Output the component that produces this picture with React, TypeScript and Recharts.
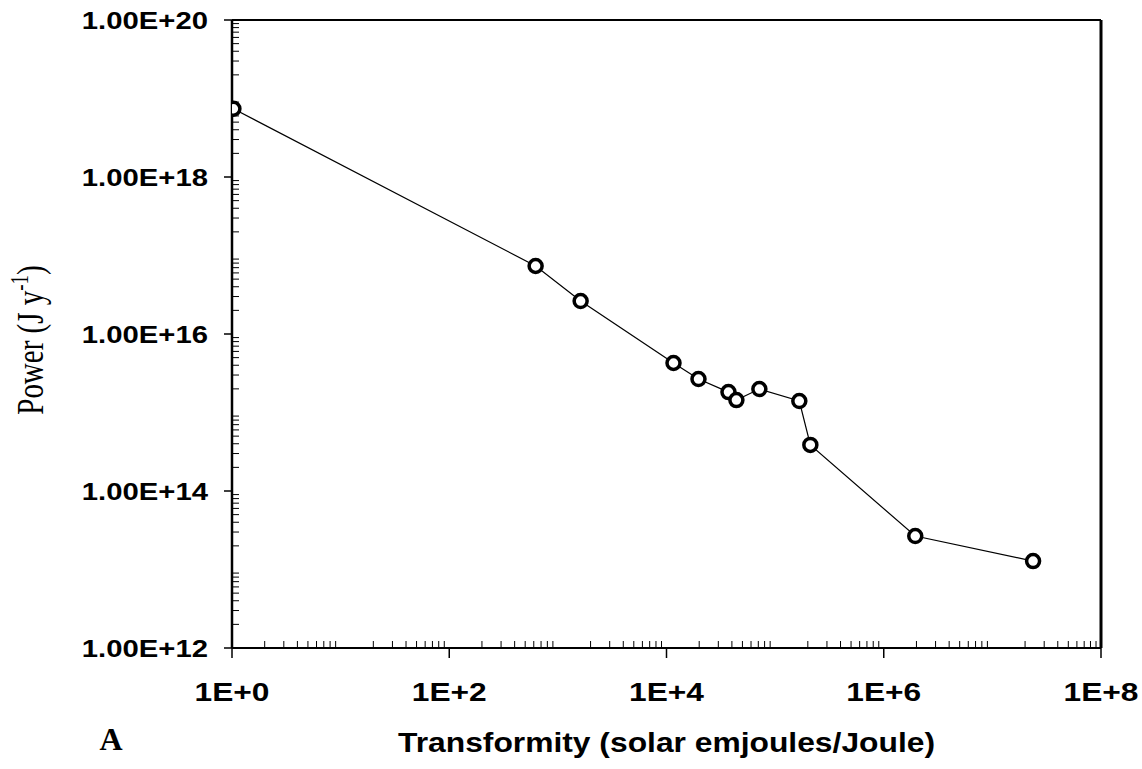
import React from "react";
import { LineChart, Line, XAxis, YAxis, Label } from "recharts";

// transformity (sej/J) and power (J/y)
const transformity = [1.03, 624, 1620, 11600, 19700, 37200, 44000, 71600, 167000, 211000, 1.95e6, 2.37e7];
const power = [7.4e18, 7.35e16, 2.63e16, 4.27e15, 2.67e15, 1.82e15, 1.44e15, 1.99e15, 1.4e15, 3.86e14, 2.67e13, 1.28e13];

const xTicks = [1, 1e2, 1e4, 1e6, 1e8];
const xTickLabels = ["1E+0", "1E+2", "1E+4", "1E+6", "1E+8"];
const yTicks = [1e12, 1e14, 1e16, 1e18, 1e20];
const yTickLabels = ["1.00E+12", "1.00E+14", "1.00E+16", "1.00E+18", "1.00E+20"];

// log minor ticks 2..9 in each decade
const minorSteps = [2, 3, 4, 5, 6, 7, 8, 9];
const xMinor = [0, 1, 2, 3, 4, 5, 6, 7].flatMap((k) => minorSteps.map((n) => n * 10 ** k));
const yMinor = [12, 13, 14, 15, 16, 17, 18, 19].flatMap((k) => minorSteps.map((n) => n * 10 ** k));

const data = transformity.map((x, i) => ({ x, y: power[i] }));

const SANS = "'Liberation Sans', Arial, sans-serif";
const SERIF = "'Liberation Serif', 'Times New Roman', serif";

const XTick = (props: any) => {
  const { x, y, payload } = props;
  const i = xTicks.indexOf(payload.value);
  return (
    <g transform={`translate(${x},${y})`}>
      <text transform="scale(1.22,1)" textAnchor="middle" dy={43} fontFamily={SANS} fontWeight="bold" fontSize={26} fill="#000">
        {xTickLabels[i]}
      </text>
    </g>
  );
};

const YTick = (props: any) => {
  const { x, y, payload } = props;
  const i = yTicks.indexOf(payload.value);
  return (
    <g transform={`translate(${x},${y})`}>
      <text transform="scale(1.22,1)" textAnchor="end" dy={8.5} fontFamily={SANS} fontWeight="bold" fontSize={24} fill="#000">
        {yTickLabels[i]}
      </text>
    </g>
  );
};

const NoLabel = () => <g />;

const renderYLabel = (props: any) => {
  const vb = props.viewBox;
  const cx = vb.x + 31;
  const cy = vb.y + vb.height / 2 + 6;
  return (
    <text transform={`translate(${cx},${cy}) scale(1.3,1) rotate(-90)`} textAnchor="middle" dy={9} fontFamily={SERIF} fontSize={29} fill="#000">
      Power (J y
      <tspan dy={-11} fontSize={19}>-1</tspan>
      <tspan dy={11}>)</tspan>
    </text>
  );
};

const renderXLabel = (props: any) => {
  const vb = props.viewBox;
  return (
    <g>
      <text x={vb.x + vb.width / 2} y={vb.y + 104} textAnchor="middle" fontFamily={SANS} fontWeight="bold" fontSize={28} textLength={537} lengthAdjust="spacingAndGlyphs" fill="#000">
        Transformity (solar emjoules/Joule)
      </text>
      <text x={vb.x - 121} y={vb.y + 102} textAnchor="middle" fontFamily={SERIF} fontWeight="bold" fontSize={32} fill="#000">
        A
      </text>
    </g>
  );
};

export default function App() {
  return (
    <div style={{ position: "absolute", left: 0, top: 0, width: 1142, height: 769, background: "#fff" }}>
      <LineChart width={1142} height={769} data={data} margin={{ top: 20, right: 41, bottom: 0, left: 0 }}>
        <XAxis
          dataKey="x"
          type="number"
          scale="log"
          domain={[1, 1e8]}
          allowDataOverflow
          ticks={xTicks}
          interval={0}
          height={121}
          tickSize={10}
          tickMargin={0}
          tick={XTick}
          axisLine={{ stroke: "#000", strokeWidth: 2 }}
          tickLine={{ stroke: "#000", strokeWidth: 1.5 }}
        >
          <Label content={renderXLabel} />
        </XAxis>
        <XAxis
          xAxisId="minor"
          dataKey="x"
          type="number"
          scale="log"
          domain={[1, 1e8]}
          allowDataOverflow
          ticks={xMinor}
          interval={0}
          mirror
          tick={NoLabel}
          tickSize={7}
          axisLine={false}
          tickLine={{ stroke: "#000", strokeWidth: 1 }}
        />
        <XAxis
          xAxisId="top"
          orientation="top"
          dataKey="x"
          type="number"
          scale="log"
          domain={[1, 1e8]}
          allowDataOverflow
          mirror
          tick={false}
          tickLine={false}
          axisLine={{ stroke: "#000", strokeWidth: 2 }}
        />
        <YAxis
          dataKey="y"
          type="number"
          scale="log"
          domain={[1e12, 1e20]}
          allowDataOverflow
          ticks={yTicks}
          interval={0}
          width={232}
          tickSize={8}
          tickMargin={16}
          tick={YTick}
          axisLine={{ stroke: "#000", strokeWidth: 2.5 }}
          tickLine={{ stroke: "#000", strokeWidth: 1.5 }}
        >
          <Label content={renderYLabel} />
        </YAxis>
        <YAxis
          yAxisId="minor"
          dataKey="y"
          type="number"
          scale="log"
          domain={[1e12, 1e20]}
          allowDataOverflow
          ticks={yMinor}
          interval={0}
          mirror
          tick={NoLabel}
          tickSize={7}
          axisLine={false}
          tickLine={{ stroke: "#000", strokeWidth: 1 }}
        />
        <YAxis
          yAxisId="right"
          orientation="right"
          dataKey="y"
          type="number"
          scale="log"
          domain={[1e12, 1e20]}
          allowDataOverflow
          mirror
          tick={false}
          tickLine={false}
          axisLine={{ stroke: "#000", strokeWidth: 3 }}
        />
        <Line
          dataKey="y"
          type="linear"
          stroke="#000"
          strokeWidth={1.2}
          dot={{ r: 6.5, stroke: "#000", strokeWidth: 3.5, fill: "#fff" }}
          isAnimationActive={false}
        />
      </LineChart>
    </div>
  );
}
